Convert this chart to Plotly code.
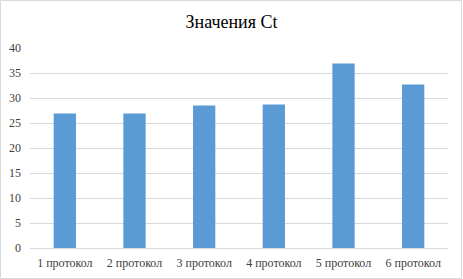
import plotly.graph_objects as go

categories = ["1 протокол", "2 протокол", "3 протокол", "4 протокол", "5 протокол", "6 протокол"]
values = [26.9, 26.9, 28.5, 28.7, 36.9, 32.7]
title_text = "Значения Ct"

W, H = 463, 279
ml, mr, mt, mb = 30, 15, 48, 31
pw, ph = W - ml - mr, H - mt - mb

fig = go.Figure(go.Bar(x=categories, y=values, marker=dict(color="#5b9bd5", line=dict(width=0)), width=0.32))

fig.update_layout(
    width=W, height=H,
    margin=dict(l=ml, r=mr, t=mt, b=mb, autoexpand=False),
    paper_bgcolor="white", plot_bgcolor="white",
    font=dict(family="Liberation Serif, Times New Roman, serif", size=12, color="#404040"),
    title=dict(text=title_text, x=0.5, xanchor="center", y=1 - 22 / H, yanchor="middle",
               font=dict(family="Liberation Serif, Times New Roman, serif", size=18, color="#000000")),
    showlegend=False,
    bargap=0.68,
    xaxis=dict(showgrid=False, showline=False, ticks="", ticklabelstandoff=6, zeroline=False,
               automargin=False),
    yaxis=dict(range=[0, 40], dtick=5, showgrid=True, gridcolor="#d9d9d9", gridwidth=1,
               zeroline=True, zerolinecolor="#d9d9d9", zerolinewidth=1, showline=False,
               ticks="", ticklabelstandoff=8, automargin=False),
    shapes=[dict(type="rect", xref="paper", yref="paper",
                 x0=-(ml - 0.5) / pw, x1=(W - ml - 1.5) / pw,
                 y0=-(mb - 0.5) / ph, y1=(ph + mt - 0.5) / ph,
                 line=dict(color="#d9d9d9", width=1), fillcolor="rgba(0,0,0,0)", layer="below")],
)

fig.write_html("out.html", config={"displayModeBar": False, "staticPlot": True},
               post_script="document.body.style.margin='0';document.body.style.padding='0';")
